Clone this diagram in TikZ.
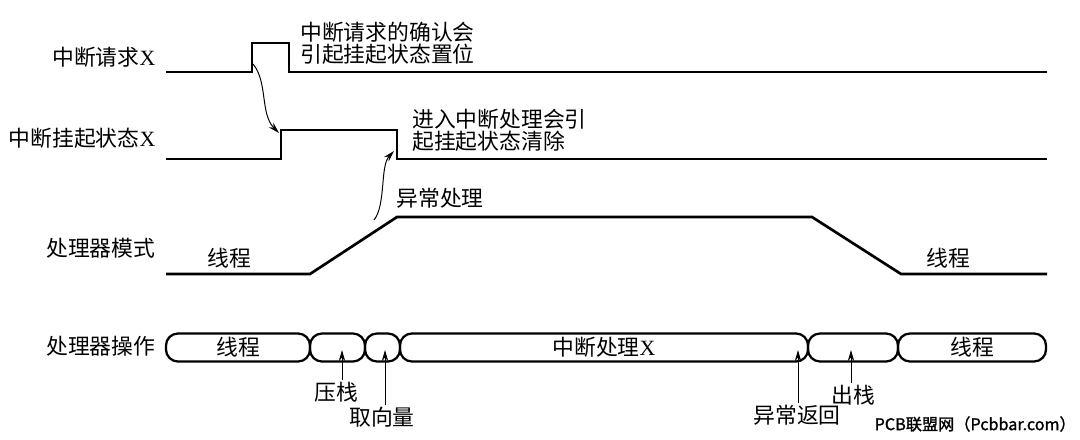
\documentclass[tikz,border=0pt]{standalone}
\usepackage{fontspec}
\setmainfont{Liberation Serif}
\newfontfamily\cjk{Noto Sans CJK SC}
\newfontfamily\markfont[FakeBold=1.5]{Noto Sans CJK SC}
\usetikzlibrary{arrows.meta}
\begin{document}
\begin{tikzpicture}[
            x=0.025cm, y=-0.025cm,
            lbl/.style={font=\cjk\fontsize{15.5}{17}\selectfont, inner sep=1pt},
            note/.style={font=\cjk\fontsize{15.5}{15.6}\selectfont, align=left, inner sep=0pt, anchor=west},
            wave/.style={line width=1.9pt, line join=miter},
            seg/.style={draw, line width=1.6pt, rounded corners=0.3cm, minimum height=0.7cm, inner sep=0pt, font=\cjk\fontsize{15.5}{17}\selectfont},
            arr/.style={-{Stealth[length=2.8mm, width=1.6mm]}, line width=0.7pt}
            ]
            \useasboundingbox (0,0) rectangle (1080,440);

            % row labels
            \node[lbl, anchor=east] (req) at (157,57) {中断请求\rmfamily X};
            \node[lbl, anchor=east] (pend) at (157,138) {中断挂起状态\rmfamily X};
            \node[lbl, anchor=east] (mode) at (157,248) {处理器模式};
            \node[lbl, anchor=east] (oper) at (157,346) {处理器操作};

            % waveforms
            \draw[wave] (166,72) -- (252,72) -- (252,43) -- (289,43) -- (289,72) -- (1047,72);
            \draw[wave] (166,159) -- (281,159) -- (281,130) -- (397,130) -- (397,159) -- (1047,159);
            \draw[wave] (166,274) -- (310,274) -- (397,217) -- (812,217) -- (901,274) -- (1047,274);

            \node[note] (ack) at (300,43) {中断请求的确认会\\引起挂起状态置位};
            \node[note] (clr) at (412,130) {进入中断处理会引\\起挂起状态清除};
            \node[lbl] (exc) at (440,198) {异常处理};
            \node[lbl] (thrA) at (229,258) {线程};
            \node[lbl] (thrB) at (948,258) {线程};

            \coordinate (reqrise) at (253,64);
            \coordinate (pendrise) at (279,133);
            \coordinate (modeup) at (374,220);
            \coordinate (pendfall) at (394,151);
            \draw[arr] (reqrise) .. controls (268,82) and (260,114) .. (pendrise);
            \draw[arr] (modeup) .. controls (386,205) and (380,166) .. (pendfall);

            % processor operation
            \node[seg, minimum width=3.6cm] (thr1) at (238,347.5) {线程};
            \node[seg, minimum width=1.375cm] (push) at (337.5,347.5) {};
            \node[seg, minimum width=0.875cm] (vec) at (382.5,347.5) {};
            \node[seg, minimum width=10.2cm] (isr) at (604,347.5) {中断处理\rmfamily X};
            \node[seg, minimum width=2.25cm] (pop) at (853,347.5) {};
            \node[seg, minimum width=3.7cm] (thr2) at (972,347.5) {线程};

            \node[lbl] (pushlbl) at (336,392) {压栈};
            \node[lbl] (veclbl) at (382,417) {取向量};
            \node[lbl] (retlbl) at (797,415) {异常返回};
            \node[lbl] (poplbl) at (853,395) {出栈};
            \coordinate (pushpt) at (342,350);
            \coordinate (vecpt) at (385,350);
            \coordinate (retpt) at (798,350);
            \coordinate (poppt) at (851,350);
            \draw[arr] (pushlbl.north -| pushpt) -- (pushpt);
            \draw[arr] (veclbl.north -| vecpt) -- (vecpt);
            \draw[arr] (retlbl.north -| retpt) -- (retpt);
            \draw[arr] (poplbl.north -| poppt) -- (poppt);

            \node[font=\markfont\fontsize{11.5}{13}\selectfont, anchor=east, inner sep=0pt] (mark) at (1076,424) {PCB联盟网（Pcbbar.com）};
            \end{tikzpicture}
\end{document}
